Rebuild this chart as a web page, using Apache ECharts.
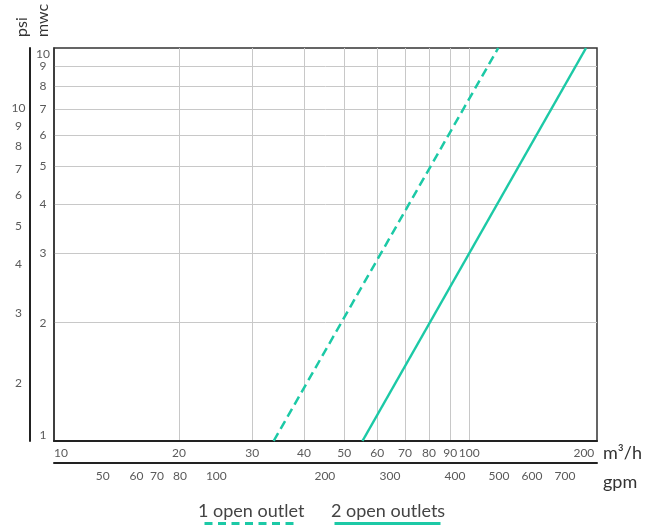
<!DOCTYPE html>
<html>
<head>
<meta charset="utf-8">
<script src="https://cdn.jsdelivr.net/npm/echarts@6/dist/echarts.min.js"></script>
<style>html,body{margin:0;padding:0;background:#fff}#c{width:658px;height:527px}</style>
</head>
<body>
<div id="c"></div>
<script>
// ---- data ----
const flowTicks = [10, 20, 30, 40, 50, 60, 70, 80, 90, 100, 200];      // m3/h labels
const flowGrid = [20, 30, 40, 50, 60, 70, 80, 90, 100];                 // vertical grid lines
const mwcTicks = [1, 2, 3, 4, 5, 6, 7, 8, 9, 10];                       // mwc labels
const mwcGrid = [2, 3, 4, 5, 6, 7, 8, 9];                               // horizontal grid lines
const psiTicks = [2, 3, 4, 5, 6, 7, 8, 9, 10];                          // psi labels
const gpmTicks = [50, 60, 70, 80, 100, 200, 300, 400, 500, 600, 700];   // gpm labels
const gpmAtFlow = [13.1, 15.8, 17.7, 20.1, 24.6, 44.9, 64.4, 92.4, 117.9, 141.6, 170.0]; // m3/h under each gpm label
const oneOutletFlow = [33.8, 117.4];
const oneOutletMwc = [1, 10];
const twoOutletFlow = [55.3, 191];
const twoOutletMwc = [1, 10];
const seriesNames = ['1 open outlet', '2 open outlets'];
const flowMin = 10, flowMax = 203, mwcMin = 1, mwcMax = 10, psiPerMwc = 1.422;

// ---- styling ----
const L = Math.log10;
const F = 'Lato';
const teal = '#1cc9a6';
const tickText = { fontFamily: F, fontSize: 12, color: '#5a5a5a' };
const nameText = { fontFamily: F, fontSize: 18, color: '#333' };
const vNameText = { fontFamily: F, fontSize: 16, color: '#333' };
const pow = v => String(Math.round(Math.pow(10, v)));
const gpmFmt = v => {
  let best = 0, d = Infinity;
  gpmAtFlow.forEach((q, i) => { const e = Math.abs(L(q) - v); if (e < d) { d = e; best = i; } });
  return String(gpmTicks[best]);
};

const chart = echarts.init(document.getElementById('c'), null, { renderer: 'canvas' });
chart.setOption({
  animation: false,
  backgroundColor: '#fff',
  grid: { left: 54, right: 61, top: 48, bottom: 86, show: true, borderColor: '#333', borderWidth: 1.5, outerBoundsMode: 'none' },
  xAxis: [
    {
      type: 'value', min: L(flowMin), max: L(flowMax), position: 'bottom',
      axisLine: { show: true, onZero: false, lineStyle: { color: '#222', width: 2 } },
      axisTick: { show: false, customValues: flowGrid.map(L) },
      splitLine: { show: true, lineStyle: { color: '#c8c8c8', width: 1 } },
      axisLabel: Object.assign({ customValues: flowTicks.map(L), formatter: pow, margin: 6, alignMinLabel: 'left', alignMaxLabel: 'right' }, tickText),
      name: 'm³/h', nameLocation: 'end', nameGap: 6, nameMoveOverlap: false,
      nameTextStyle: Object.assign({ align: 'left', verticalAlign: 'top', padding: [3, 0, 0, 0] }, nameText)
    },
    {
      type: 'value', min: L(flowMin), max: L(flowMax), position: 'bottom', offset: 22,
      axisLine: { show: true, onZero: false, lineStyle: { color: '#222', width: 2 } },
      axisTick: { show: false },
      splitLine: { show: false },
      axisLabel: Object.assign({ customValues: gpmAtFlow.map(L), formatter: gpmFmt, margin: 7 }, tickText),
      name: 'gpm', nameLocation: 'end', nameGap: 6, nameMoveOverlap: false,
      nameTextStyle: Object.assign({ align: 'left', verticalAlign: 'top', padding: [10, 0, 0, 0] }, nameText)
    }
  ],
  yAxis: [
    {
      type: 'value', min: L(mwcMin), max: L(mwcMax), position: 'left',
      axisLine: { show: true, onZero: false, lineStyle: { color: '#333', width: 1.5 } },
      axisTick: { show: false, customValues: mwcGrid.map(L) },
      splitLine: { show: true, lineStyle: { color: '#c8c8c8', width: 1 } },
      axisLabel: Object.assign({ customValues: mwcTicks.map(L), formatter: pow, margin: 11, align: 'center',
        verticalAlignMaxLabel: 'top', verticalAlignMinLabel: 'bottom' }, tickText),
      name: 'mwc', nameLocation: 'end', nameGap: 11, nameRotate: 90, nameMoveOverlap: false,
      nameTextStyle: Object.assign({ align: 'left', verticalAlign: 'bottom', padding: [0, 0, 3, 0] }, vNameText)
    },
    {
      type: 'value', min: L(mwcMin * psiPerMwc), max: L(mwcMax * psiPerMwc), position: 'left', offset: 24,
      axisLine: { show: true, onZero: false, lineStyle: { color: '#222', width: 2 } },
      axisTick: { show: false },
      splitLine: { show: false },
      axisLabel: Object.assign({ customValues: psiTicks.map(L), formatter: pow, margin: 11.5, align: 'center' }, tickText),
      name: 'psi', nameLocation: 'end', nameGap: 11, nameRotate: 90, nameMoveOverlap: false,
      nameTextStyle: Object.assign({ align: 'left', verticalAlign: 'bottom' }, vNameText)
    }
  ],
  legend: [
    { data: [seriesNames[0]], left: 193, top: 502, padding: 0, icon: 'none', itemWidth: 0, itemHeight: 0, selectedMode: false,
      textStyle: { fontFamily: F, fontSize: 18, color: '#444' } },
    { data: [seriesNames[1]], left: 326, top: 502, padding: 0, icon: 'none', itemWidth: 0, itemHeight: 0, selectedMode: false,
      textStyle: { fontFamily: F, fontSize: 18, color: '#444' } },
    { data: [seriesNames[0]], left: 203, top: 522, padding: 0, itemWidth: 93, itemHeight: 3, selectedMode: false,
      formatter: () => '', textStyle: { fontSize: 3, lineHeight: 3 },
      lineStyle: { color: teal, width: 3, type: [8, 5.5] }, itemStyle: { opacity: 0 } },
    { data: [seriesNames[1]], left: 333, top: 522, padding: 0, itemWidth: 106, itemHeight: 3, selectedMode: false,
      formatter: () => '', textStyle: { fontSize: 3, lineHeight: 3 },
      lineStyle: { color: teal, width: 3, type: 'solid' }, itemStyle: { opacity: 0 } }
  ],
  series: [
    {
      name: seriesNames[0], type: 'line', xAxisIndex: 0, yAxisIndex: 0, symbol: 'none', silent: true,
      data: oneOutletFlow.map((q, i) => [L(q), L(oneOutletMwc[i])]),
      lineStyle: { color: teal, width: 2.5, type: [9, 5] }, itemStyle: { color: teal }
    },
    {
      name: seriesNames[1], type: 'line', xAxisIndex: 0, yAxisIndex: 0, symbol: 'none', silent: true,
      data: twoOutletFlow.map((q, i) => [L(q), L(twoOutletMwc[i])]),
      lineStyle: { color: teal, width: 2.5, type: 'solid' }, itemStyle: { color: teal }
    }
  ]
});
</script>
</body>
</html>
